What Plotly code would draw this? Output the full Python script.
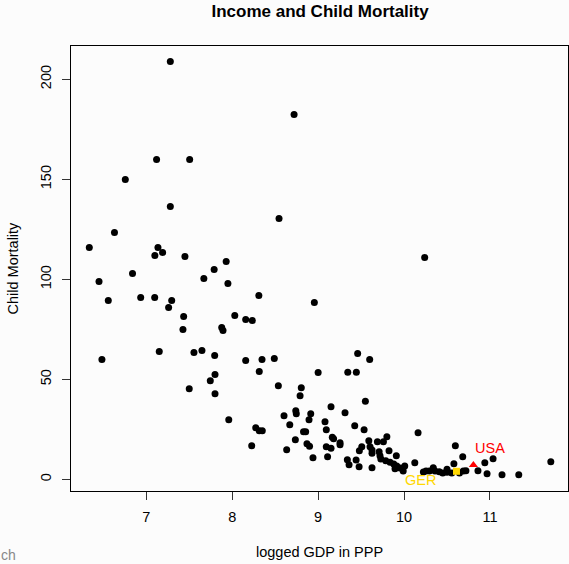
import plotly.graph_objects as go

# logged GDP (x) and child mortality (y) for countries
gdp = [7.28, 8.72, 7.12, 7.505, 6.756, 7.28, 8.545, 6.63, 6.337, 7.136, 7.19, 7.10, 7.45, 7.93,
       7.79, 6.84, 7.67, 6.45, 7.95, 10.24, 6.558, 6.935, 7.098, 7.296, 7.26, 7.435, 7.427, 8.31,
       8.03, 8.157, 8.234, 7.878, 7.893, 8.956, 6.484, 7.151, 7.555, 7.648, 7.796, 8.157, 8.347,
       8.49, 8.315, 9.0, 7.80, 7.745, 7.50, 7.80, 8.537, 8.804, 8.79, 7.96, 8.603, 8.74, 8.746,
       8.914, 8.894, 8.67, 8.274, 8.315, 8.35, 8.83, 8.855, 8.735, 8.87, 8.90, 8.227, 8.634, 8.94,
       9.46, 9.60, 9.345, 9.445, 9.55, 9.15, 9.313, 9.08, 9.095, 9.426, 9.535, 10.163, 9.095, 9.15,
       9.165, 9.18, 9.11, 9.255, 9.255, 9.34, 9.36, 9.442, 9.477, 9.48, 9.508, 9.59, 9.604, 9.627,
       9.627, 9.627, 9.69, 9.71, 9.72, 9.76, 9.80, 9.825, 9.73, 9.787, 9.837, 9.88, 9.91, 9.915,
       9.953, 10.008, 9.895, 9.99, 10.125, 10.225, 10.256, 10.295, 10.34, 10.36, 10.41, 10.45,
       10.50, 10.50, 10.555, 10.58, 10.597, 10.683, 10.645, 10.69, 10.72, 10.86, 10.94, 10.966,
       11.036, 11.14, 11.335, 11.708]
mortality = [208.9, 182.4, 159.9, 159.9, 149.9, 136.4, 130.4, 123.4, 115.9, 115.9, 113.4, 111.9, 111.4, 108.9,
             104.9, 102.9, 100.4, 98.9, 97.9, 110.9, 89.4, 90.9, 90.9, 89.4, 85.9, 81.4, 74.9, 91.9,
             81.9, 79.9, 79.4, 75.9, 74.4, 88.4, 59.9, 63.9, 63.4, 64.4, 61.9, 59.4, 59.9,
             60.4, 53.9, 53.4, 52.4, 49.4, 45.4, 42.9, 46.9, 45.9, 41.9, 29.9, 31.9, 34.4, 32.9,
             32.9, 29.9, 27.4, 25.9, 24.4, 24.4, 23.9, 23.9, 19.9, 17.9, 16.6, 16.9, 14.9, 10.9,
             62.9, 59.9, 53.6, 53.6, 39.1, 36.4, 33.4, 28.9, 24.9, 26.9, 24.9, 23.4, 16.4, 15.6,
             21.1, 20.4, 11.4, 18.4, 17.4, 9.9, 7.4, 9.75, 6.4, 14.4, 16.4, 19.4, 16.4, 14.75,
             13.1, 5.9, 18.9, 13.9, 11.9, 18.9, 21.4, 14.4, 10.25, 9.4, 8.6, 7.75, 11.9, 6.75,
             5.75, 6.75, 5.4, 4.25, 8.4, 3.75, 4.25, 4.25, 5.9, 4.25, 3.9, 3.25,
             5.1, 3.6, 3.25, 7.9, 16.9, 11.4, 3.25, 4.25, 4.4, 4.4, 8.4, 2.9,
             10.4, 2.4, 2.4, 8.9]

ger_gdp, ger_mort = [10.61], [4.1]
usa_gdp, usa_mort = [10.807], [7.3]
ger_label_pos = (10.193, -0.4)
usa_label_pos = (11.0, 15.75)

x_ticks = [7, 8, 9, 10, 11]
y_ticks = [0, 50, 100, 150, 200]

FONT = "Liberation Sans, Arial, Helvetica, sans-serif"
FS = 14.5

fig = go.Figure()
fig.add_trace(go.Scatter(x=gdp, y=mortality, mode="markers",
                         marker=dict(color="black", size=7, line=dict(width=0)),
                         showlegend=False, hoverinfo="x+y"))
fig.add_trace(go.Scatter(x=ger_gdp, y=ger_mort, mode="markers",
                         marker=dict(color="#FFD700", size=7, symbol="square", line=dict(width=0)),
                         showlegend=False))
fig.add_trace(go.Scatter(x=usa_gdp, y=usa_mort, mode="markers",
                         marker=dict(color="#FF0000", size=8, symbol="triangle-up", line=dict(width=0)),
                         showlegend=False))

axis_common = dict(showline=True, linecolor="black", linewidth=1, mirror=True,
                   ticks="outside", ticklen=8, tickcolor="#333333", tickwidth=1,
                   showgrid=False, zeroline=False,
                   tickfont=dict(family=FONT, size=FS, color="black"))

fig.update_layout(
    width=569, height=564,
    margin=dict(l=71, r=1, t=46, b=73),
    paper_bgcolor="#FCFCFC", plot_bgcolor="#FCFCFC",
    xaxis=dict(range=[6.124, 11.908], tickvals=x_ticks, ticktext=[str(v) for v in x_ticks],
               ticklabelstandoff=5, **axis_common),
    yaxis=dict(range=[-5.75, 216.6], tickvals=y_ticks, ticktext=[str(v) for v in y_ticks],
               tickangle=-90, ticklabelstandoff=5, **axis_common),
    title=dict(text="<b>Income and Child Mortality</b>", x=0.5625, xanchor="center",
               y=1 - 11.5 / 564, yanchor="middle", yref="container",
               font=dict(family=FONT, size=17, color="black")),
    annotations=[
        dict(text="logged GDP in PPP", xref="paper", yref="paper", x=0.5, y=(491 - 552) / 445,
             xanchor="center", yanchor="middle", showarrow=False,
             font=dict(family=FONT, size=FS, color="black")),
        dict(text="Child Mortality", xref="paper", yref="paper", x=(12 - 71) / 497, y=0.5,
             xanchor="center", yanchor="middle", textangle=-90, showarrow=False,
             font=dict(family=FONT, size=FS, color="black")),
        dict(text="USA", x=usa_label_pos[0], y=usa_label_pos[1], xref="x", yref="y",
             showarrow=False, xanchor="center", yanchor="middle",
             font=dict(family=FONT, size=FS, color="#FF0000")),
        dict(text="GER", x=ger_label_pos[0], y=ger_label_pos[1], xref="x", yref="y",
             showarrow=False, xanchor="center", yanchor="middle",
             font=dict(family=FONT, size=FS, color="#FFD700")),
        dict(text="ch", xref="paper", yref="paper", x=(-1 - 71) / 497, y=(491 - 555) / 445,
             xanchor="left", yanchor="middle", showarrow=False,
             font=dict(family=FONT, size=14, color="#888888")),
    ],
)

fig.write_html("out.html")
